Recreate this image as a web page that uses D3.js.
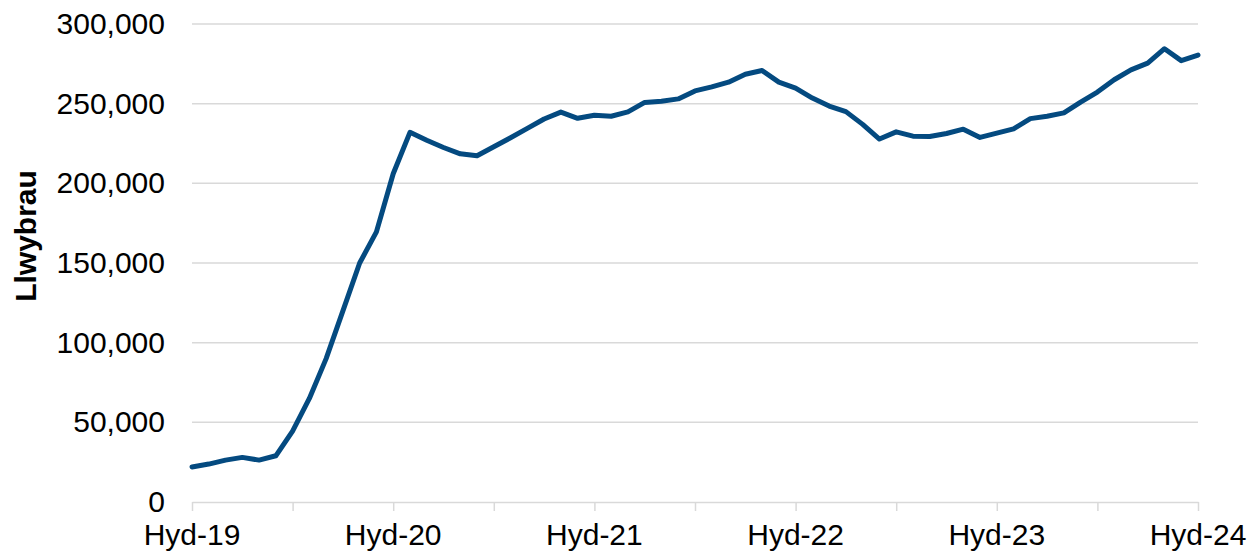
<!DOCTYPE html>
<html>
<head>
<meta charset="utf-8">
<script src="https://cdn.jsdelivr.net/npm/d3@7"></script>
<style>
  body { margin: 0; background: #fff; }
  svg { display: block; font-family: "Liberation Sans", Arial, sans-serif; }
</style>
</head>
<body>
<div id="chart"></div>
<script>
// Monthly categories, Hyd-19 .. Hyd-24
const months = [
    "Hyd-19","Tach-19","Rhag-19","Ion-20","Chwe-20","Maw-20","Ebr-20","Mai-20","Meh-20","Gor-20","Awst-20","Medi-20",
    "Hyd-20","Tach-20","Rhag-20","Ion-21","Chwe-21","Maw-21","Ebr-21","Mai-21","Meh-21","Gor-21","Awst-21","Medi-21",
    "Hyd-21","Tach-21","Rhag-21","Ion-22","Chwe-22","Maw-22","Ebr-22","Mai-22","Meh-22","Gor-22","Awst-22","Medi-22",
    "Hyd-22","Tach-22","Rhag-22","Ion-23","Chwe-23","Maw-23","Ebr-23","Mai-23","Meh-23","Gor-23","Awst-23","Medi-23",
    "Hyd-23","Tach-23","Rhag-23","Ion-24","Chwe-24","Maw-24","Ebr-24","Mai-24","Meh-24","Gor-24","Awst-24","Medi-24",
    "Hyd-24"
];

// Llwybrau (pathways) per month
const pathways = [
    22000, 23800, 26300, 28000, 26300, 29000, 44500, 65000, 90000, 120000, 150000, 169500,
    206000, 232000, 227000, 222500, 218500, 217300, 223000, 228600, 234500, 240400, 244700, 240800,
    242700, 242100, 244800, 250800, 251500, 253000, 258000, 260500, 263500, 268500, 270800, 263500,
    259800, 253500, 248500, 245000, 237000, 227800, 232300, 229600, 229400, 231300, 234000, 228800,
    231500, 234200, 240600, 242100, 244200, 251000, 257300, 265000, 271200, 275400, 284500, 277000,
    280500
];

const yTicks = [0, 50000, 100000, 150000, 200000, 250000, 300000];
const xLabelEvery = 12;
const xTickEvery = 6;

const width = 1251, height = 553;
const margin = { top: 24, right: 53, bottom: 51, left: 192 };

const svg = d3.select("#chart").append("svg")
    .attr("width", width)
    .attr("height", height);

const x = d3.scaleLinear()
    .domain([0, months.length - 1])
    .range([margin.left, width - margin.right]);

const y = d3.scaleLinear()
    .domain([0, 300000])
    .range([height - margin.bottom, margin.top]);

// gridlines
svg.append("g")
    .selectAll("line")
    .data(yTicks.filter(d => d > 0))
    .join("line")
    .attr("x1", margin.left)
    .attr("x2", width - margin.right)
    .attr("y1", d => y(d))
    .attr("y2", d => y(d))
    .attr("stroke", "#d9d9d9")
    .attr("stroke-width", 1.5);

// y axis labels
const yAxis = svg.append("g")
    .attr("transform", `translate(${margin.left},0)`)
    .call(d3.axisLeft(y).tickValues(yTicks).tickSize(0).tickPadding(27).tickFormat(d3.format(",")));
yAxis.select(".domain").remove();
yAxis.selectAll("text")
    .attr("font-size", 30)
    .attr("fill", "#000")
    .attr("font-family", "Liberation Sans, Arial, sans-serif");

// x axis
const xAxis = svg.append("g")
    .attr("transform", `translate(0,${height - margin.bottom})`)
    .call(d3.axisBottom(x)
        .tickValues(d3.range(0, months.length, xTickEvery))
        .tickSize(9)
        .tickSizeOuter(0)
        .tickFormat(() => ""));
xAxis.select(".domain").attr("stroke", "#d9d9d9").attr("stroke-width", 1.5);
xAxis.selectAll(".tick line").attr("stroke", "#d9d9d9").attr("stroke-width", 1.5);

svg.append("g")
    .selectAll("text")
    .data(d3.range(0, months.length, xLabelEvery))
    .join("text")
    .attr("x", d => x(d))
    .attr("y", height - 8)
    .attr("text-anchor", "middle")
    .attr("font-size", 30)
    .attr("fill", "#000")
    .text(d => months[d]);

// y title
svg.append("text")
    .attr("transform", `translate(36,236) rotate(-90)`)
    .attr("text-anchor", "middle")
    .attr("font-size", 30)
    .attr("font-weight", "bold")
    .attr("fill", "#000")
    .text("Llwybrau");

// line
const line = d3.line()
    .x((d, i) => x(i))
    .y(d => y(d));

svg.append("path")
    .datum(pathways)
    .attr("fill", "none")
    .attr("stroke", "#044a80")
    .attr("stroke-width", 5)
    .attr("stroke-linejoin", "round")
    .attr("stroke-linecap", "round")
    .attr("d", line);
</script>
</body>
</html>
